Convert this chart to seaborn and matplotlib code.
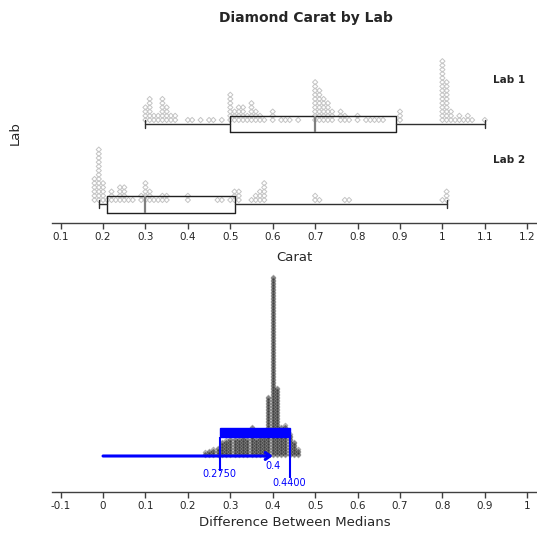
import numpy as np
import pandas as pd
import matplotlib
matplotlib.use("Agg")
import matplotlib.pyplot as plt
from matplotlib.patches import Rectangle
import seaborn as sns

# carat values and how many diamonds sit at each one
lab1_carat = [0.30, 0.31, 0.32, 0.33, 0.34, 0.35, 0.36, 0.37, 0.40, 0.41, 0.43, 0.45,
              0.46, 0.48, 0.50, 0.51, 0.52, 0.53, 0.54, 0.55, 0.56, 0.57, 0.58, 0.60,
              0.62, 0.63, 0.64, 0.66, 0.70, 0.71, 0.72, 0.73, 0.74, 0.76, 0.77, 0.78,
              0.80, 0.82, 0.83, 0.84, 0.85, 0.86, 0.90, 1.00, 1.01, 1.02, 1.03, 1.04,
              1.05, 1.06, 1.07, 1.10]
lab1_count = [4, 6, 2, 2, 6, 4, 2, 2, 1, 1, 1, 1,
              1, 1, 7, 3, 4, 4, 2, 5, 3, 2, 1, 3,
              1, 1, 1, 1, 10, 8, 6, 5, 3, 3, 2, 1,
              2, 1, 1, 1, 1, 1, 3, 15, 10, 3, 1, 2,
              1, 2, 1, 1]

lab2_carat = [0.18, 0.19, 0.20, 0.21, 0.22, 0.23, 0.24, 0.25, 0.26, 0.27, 0.29, 0.30,
              0.31, 0.32, 0.33, 0.34, 0.35, 0.40, 0.47, 0.48, 0.50, 0.51, 0.52, 0.55,
              0.56, 0.57, 0.58, 0.70, 0.71, 0.77, 0.78, 1.00, 1.01]
lab2_count = [6, 13, 5, 1, 3, 1, 4, 4, 1, 1, 2, 5,
              3, 1, 1, 2, 2, 2, 1, 1, 1, 3, 3, 1,
              2, 3, 5, 2, 1, 1, 1, 1, 3]

# box plot summaries (q1, median, q3, whisker low, whisker high)
lab1_box = [0.50, 0.70, 0.89, 0.30, 1.10]
lab2_box = [0.21, 0.30, 0.51, 0.19, 1.01]

# bootstrap differences between medians
diff_value = [0.24, 0.25, 0.26, 0.27, 0.28, 0.29, 0.30, 0.31, 0.32, 0.33, 0.34, 0.35,
              0.36, 0.37, 0.38, 0.39, 0.40, 0.41, 0.42, 0.43, 0.44, 0.45, 0.46]
diff_count = [3, 4, 5, 6, 10, 11, 12, 12, 12, 13, 12, 20,
              12, 13, 13, 40, 120, 46, 20, 21, 15, 10, 5]
ci_low, ci_high, diff_est = 0.275, 0.44, 0.4

ticks_top = [0.1, 0.2, 0.3, 0.4, 0.5, 0.6, 0.7, 0.8, 0.9, 1.0, 1.1, 1.2]
ticks_bot = [-0.1, 0, 0.1, 0.2, 0.3, 0.4, 0.5, 0.6, 0.7, 0.8, 0.9, 1]


def stack(values, counts, base, step):
    rows = []
    for v, c in zip(values, counts):
        for i in range(c):
            rows.append((v, base + i * step))
    return pd.DataFrame(rows, columns=["x", "y"])


sns.set_style("white")
plt.rcParams["font.family"] = ["DejaVu Sans"]

fig = plt.figure(figsize=(5.37, 5.34), dpi=100)
W, H = 537, 534
ax1 = fig.add_axes([51.7 / W, (H - 222.7) / H, (W - 51.7) / W, 182.7 / H])
ax2 = fig.add_axes([51.7 / W, (H - 491.7) / H, (W - 51.7) / W, 226.7 / H])

# ---- top panel: dot plots with boxes
dots1 = stack(lab1_carat, lab1_count, 102.7, 4.2)
dots2 = stack(lab2_carat, lab2_count, 22.7, 4.2)
for d in (dots1, dots2):
    sns.scatterplot(data=d, x="x", y="y", ax=ax1, marker="D", s=7,
                    facecolor="none", edgecolor="#c4c4c4", linewidth=0.7, zorder=2)

stats = []
for b, lab in ((lab1_box, "Lab 1"), (lab2_box, "Lab 2")):
    stats.append(dict(q1=b[0], med=b[1], q3=b[2], whislo=b[3], whishi=b[4],
                      fliers=[], label=lab))
ax1.bxp(stats, positions=[98.7, 18.4], widths=16.6, orientation="horizontal",
        showfliers=False, capwidths=8, manage_ticks=False,
        boxprops=dict(color="#202020", linewidth=1),
        whiskerprops=dict(color="#303030", linewidth=1),
        capprops=dict(color="#303030", linewidth=1),
        medianprops=dict(color="#808080", linewidth=1.6))

ax1.text(1.158, 142.7, "Lab 1", fontsize=7.5, fontweight="bold", ha="center", va="center")
ax1.text(1.158, 62.7, "Lab 2", fontsize=7.5, fontweight="bold", ha="center", va="center")

ax1.set_xlim(0.079, 1.223)
ax1.set_ylim(0, 182.7)
ax1.set_xticks(ticks_top)
ax1.set_xticklabels([f"{t:g}" for t in ticks_top])
ax1.set_yticks([])
ax1.set_xlabel("Carat", fontsize=9.5, labelpad=7)
ax1.set_ylabel("")

# ---- bottom panel: bootstrap dot plot with CI
boot = stack(diff_value, diff_count, 36.7, 1.5)
sns.scatterplot(data=boot, x="x", y="y", ax=ax2, marker="D", s=7,
                color="black", alpha=0.25, edgecolor="black", linewidth=0.4, zorder=2)

ax2.add_patch(Rectangle((ci_low, 54.7), ci_high - ci_low, 8.7, color="#0000ff", zorder=3))
ax2.vlines(ci_low, 21, 54.7, color="#0000ff", linewidth=1.5, zorder=3)
ax2.vlines(ci_high, 13.4, 54.7, color="#0000ff", linewidth=1.5, zorder=3)
ax2.annotate("", xy=(diff_est, 35.7), xytext=(0, 35.7),
             arrowprops=dict(arrowstyle="->,head_length=0.35,head_width=0.25",
                             color="#0000ff", lw=2.2, shrinkA=0, shrinkB=0), zorder=4)
ax2.text(ci_low, 17.4, f"{ci_low:.4f}", color="#0000ff", fontsize=7, ha="center", va="center")
ax2.text(ci_high, 8.4, f"{ci_high:.4f}", color="#0000ff", fontsize=7, ha="center", va="center")
ax2.text(diff_est, 26, f"{diff_est:g}", color="#0000ff", fontsize=7, ha="center", va="center")

ax2.set_xlim(-0.121, 1.023)
ax2.set_ylim(0, 226.7)
ax2.set_xticks(ticks_bot)
ax2.set_xticklabels([f"{t:g}" for t in ticks_bot])
ax2.set_yticks([])
ax2.set_xlabel("Difference Between Medians", fontsize=9.5, labelpad=4)
ax2.set_ylabel("")

for ax in (ax1, ax2):
    for s in ("top", "right", "left"):
        ax.spines[s].set_visible(False)
    ax.spines["bottom"].set_color("#404040")
    ax.spines["bottom"].set_linewidth(1)
    ax.tick_params(axis="x", direction="out", length=4.5, width=1, color="#404040",
                   labelsize=7.5, pad=2, bottom=True)

fig.text(305.5 / W, 1 - 18 / H, "Diamond Carat by Lab", fontsize=10, fontweight="bold",
         ha="center", va="center")
fig.text(15 / W, 1 - 133 / H, "Lab", fontsize=9.5, rotation=90, ha="center", va="center")

fig.savefig("out.png", dpi=100)
